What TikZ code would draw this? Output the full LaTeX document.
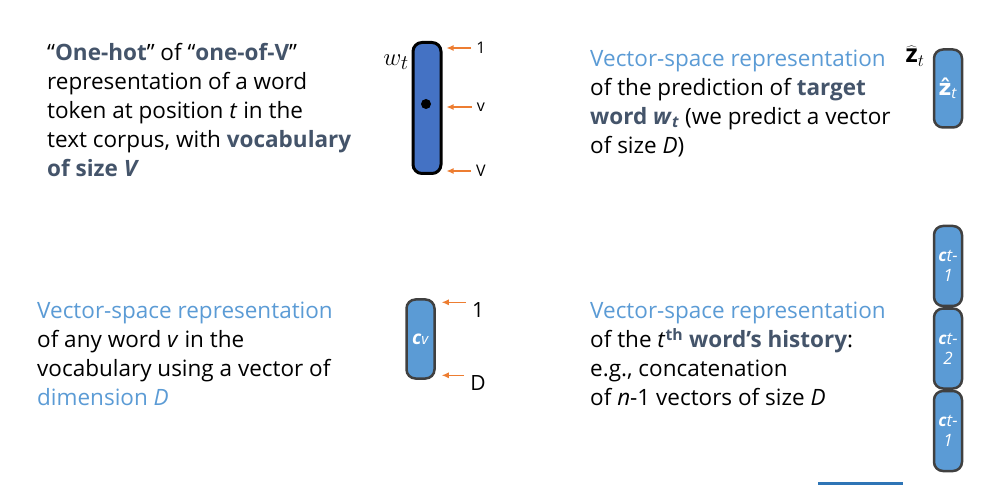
\documentclass[tikz,border=0pt]{standalone}
\usepackage{fontspec}
\setmainfont{Open Sans}
\newfontfamily\hatfont{DejaVu Sans}
\usetikzlibrary{shapes,arrows,arrows.meta,positioning,calc}

\definecolor{slatetext}{HTML}{44546A}
\definecolor{skyblue}{HTML}{5B9BD5}
\definecolor{royalblue}{HTML}{4472C4}
\definecolor{boxgray}{HTML}{404040}
\definecolor{pointerorange}{HTML}{ED7D31}
\definecolor{barblue}{HTML}{2E75B6}

\newcommand{\hlword}[1]{\textcolor{slatetext}{\bfseries #1}}
\newcommand{\vsword}[1]{\textcolor{skyblue}{#1}}

\begin{document}
\begin{tikzpicture}[x=1pt,y=-1pt,
  textblock/.style={anchor=north west, align=left, inner sep=0pt, font=\fontsize{22.5}{29}\selectfont},
  vecbox/.style={draw=boxgray, line width=2.5pt, fill=skyblue, rounded corners=9pt,
    minimum width=28pt, text=white, align=center, inner sep=0pt},
  pointer/.style={draw=pointerorange, line width=1.2pt, -{Latex[length=7pt,width=6pt]}},
  idxlabel/.style={inner sep=0pt, font=\fontsize{16}{16}\selectfont}]
\useasboundingbox (0,0) rectangle (993,486);

% one-hot vector
\node[textblock] (onehot) at (47,43.5) {%
  “\hlword{One-hot}” of “\hlword{one-of-V}”\\
  representation of a word\\
  token at position \textit{t} in the\\
  text corpus, with \hlword{vocabulary}\\
  \hlword{of size \textit{V}}};
\node[vecbox, draw=black, line width=3pt, fill=royalblue, minimum height=131pt] (wvec) at (427,108) {};
\node[circle, fill=black, inner sep=0pt, minimum size=10pt] (dot) at (426,104) {};
\node (wlbl) at (396,62) {\fontsize{28}{28}\selectfont $w_t$};
\node[idxlabel] (wone) at (481,48) {1};
\node[idxlabel] (wsmall) at (481,107) {v};
\node[idxlabel] (wbig) at (481,171) {V};
\draw[pointer] ([xshift=-5pt]wone.west) -- ([xshift=4pt]wone -| wvec.east);
\draw[pointer] ([xshift=-5pt]wsmall.west) -- ([xshift=4pt]wsmall -| wvec.east);
\draw[pointer] ([xshift=-5pt]wbig.west) -- ([xshift=4pt]wbig -| wvec.east);

% prediction
\node[textblock] (predict) at (590,50) {%
  \vsword{Vector-space representation}\\
  of the prediction of \hlword{target}\\
  \hlword{word \textit{w}\textsubscript{\textit{t}}} (we predict a vector\\
  of size \textit{D})};
\node[vecbox, minimum height=78pt] (zvec) at (948,88.5) {\fontsize{22}{22}\selectfont{\hatfont\bfseries ẑ}\textsubscript{\textit{t}}};
\node[inner sep=0pt] (zlbl) at (915,56) {\fontsize{25}{25}\selectfont $\widehat{\mathbf{z}}_t$};

% word vector
\node[textblock] (wordvec) at (37,302) {%
  \vsword{Vector-space representation}\\
  of any word \textit{v} in the\\
  vocabulary using a vector of\\
  \vsword{dimension \textit{D}}};
\node[vecbox, minimum height=79pt] (cvec) at (420.5,339) {\fontsize{19}{19}\selectfont\textbf{\textit{c}}{\fontsize{15}{15}\selectfont\textit{v}}};
\node[idxlabel, font=\fontsize{21}{21}\selectfont] (cone) at (478,310) {1};
\node[idxlabel, font=\fontsize{21}{21}\selectfont] (cdim) at (478,383) {D};
\draw[pointer] ([xshift=-6pt]cone.north west) -- ([xshift=6pt]cone.north west -| cvec.east);
\draw[pointer] ([xshift=-6pt]cdim.north west) -- ([xshift=6pt]cdim.north west -| cvec.east);

% history
\node[textblock] (history) at (590,302) {%
  \vsword{Vector-space representation}\\
  of the \textit{t}\textsuperscript{\hlword{th}} \hlword{word’s history}:\\
  e.g., concatenation\\
  of \textit{n}-1 vectors of size \textit{D}};
\node[vecbox, minimum height=80pt, font=\fontsize{17}{20}\selectfont] (hist1) at (948,266) {\textbf{\textit{c}}\textit{t-}\\\textit{1}};
\node[vecbox, minimum height=80pt, font=\fontsize{17}{20}\selectfont, below=0pt of hist1] (hist2) {\textbf{\textit{c}}\textit{t-}\\\textit{2}};
\node[vecbox, minimum height=80pt, font=\fontsize{17}{20}\selectfont, below=0pt of hist2] (hist3) {\textbf{\textit{c}}\textit{t-}\\\textit{1}};

\draw[barblue, line width=3pt] (818,483) -- (903,483);
\end{tikzpicture}
\end{document}
